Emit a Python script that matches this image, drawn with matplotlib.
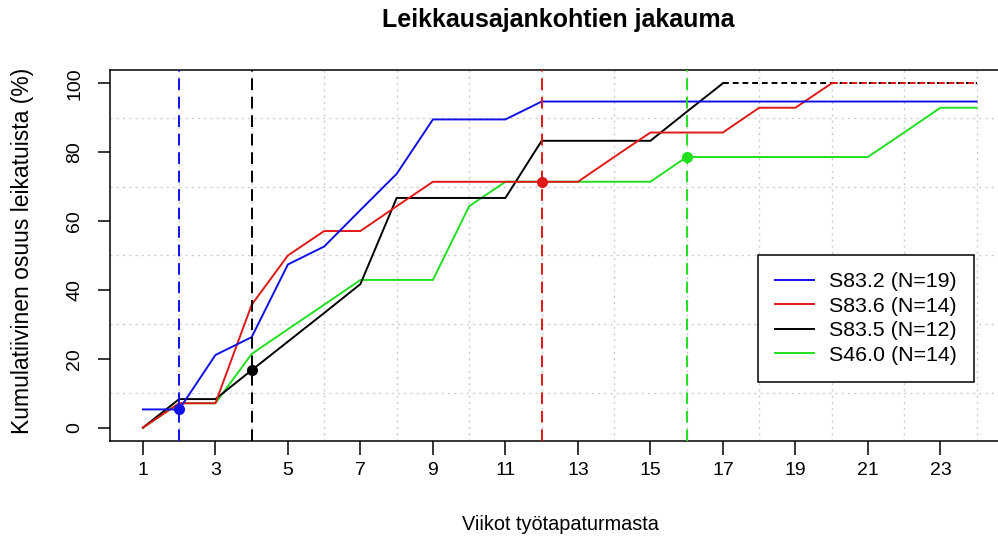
import numpy as np
import matplotlib
matplotlib.use("Agg")
import matplotlib.pyplot as plt

plt.rcParams['font.family'] = ['Liberation Sans', 'DejaVu Sans']

# viikot ja kumulatiiviset osuudet (%)
weeks = list(range(1, 25))
s832 = [5.3, 5.3, 21.1, 26.3, 47.4, 52.6, 63.2, 73.7, 89.5, 89.5, 89.5, 94.7,
        94.7, 94.7, 94.7, 94.7, 94.7, 94.7, 94.7, 94.7, 94.7, 94.7, 94.7, 94.7]
s836 = [0.0, 7.1, 7.1, 35.7, 50.0, 57.1, 57.1, 64.3, 71.4, 71.4, 71.4, 71.4,
        71.4, 78.6, 85.7, 85.7, 85.7, 92.9, 92.9, 100, 100, 100, 100, 100]
s835 = [0.0, 8.3, 8.3, 16.7, 25.0, 33.3, 41.7, 66.7, 66.7, 66.7, 66.7, 83.3,
        83.3, 83.3, 83.3, 91.7, 100, 100, 100, 100, 100, 100, 100, 100]
s460 = [0.0, 7.1, 7.1, 21.4, 28.6, 35.7, 42.9, 42.9, 42.9, 64.3, 71.4, 71.4,
        71.4, 71.4, 71.4, 78.6, 78.6, 78.6, 78.6, 78.6, 78.6, 85.7, 92.9, 92.9]

labels = ["S83.2 (N=19)", "S83.6 (N=14)", "S83.5 (N=12)", "S46.0 (N=14)"]
colors = ["#1010e8", "#e01818", "black", "#20e020"]
zorders = [5, 4, 3, 2]

# mediaaniviikot
median_weeks = [2, 12, 4, 16]
median_vals = [5.3, 71.4, 16.7, 78.6]

fig = plt.figure(figsize=(9.98, 5.43), dpi=100)
ax = fig.add_axes([0.1098, 0.187, 0.9022, 0.685])

x = np.array(weeks)
for ys, lab, col, z in zip([s832, s836, s835, s460], labels, colors, zorders):
    ys = np.array(ys)
    full = np.where(ys >= 100)[0]
    end = full[0] + 1 if len(full) else len(ys)
    ax.plot(x[:end], ys[:end], color=col, lw=1.4, zorder=z, label=lab)
    if len(full):
        # 100 %:n jälkeen katkoviivalla
        ax.plot(x[end - 1:], ys[end - 1:], color=col, lw=1.4, zorder=z,
                linestyle=(0, (3, 2)))

for mw, mv, col in zip(median_weeks, median_vals, colors):
    ax.axvline(mw, color=col, lw=1.4, linestyle=(0, (6, 3.5)), zorder=6)
    ax.plot(mw, mv, 'o', color=col, markersize=7, zorder=7)

ax.set_xlim(0.08, 24.92)
ax.set_ylim(-4, 104)

# ruudukko
ax.set_xticks(weeks, minor=True)
ax.set_yticks(np.arange(0, 101, 10), minor=True)
ax.grid(which='minor', color='#cccccc', linestyle=(0, (1.5, 3)), lw=1.0, zorder=1)
ax.tick_params(which='minor', length=0)

ax.set_xticks(np.arange(1, 24, 2))
ax.set_yticks(np.arange(0, 101, 20))
ax.tick_params(axis='x', direction='out', length=10, width=1.1, pad=5, labelsize=14)
ax.tick_params(axis='y', direction='out', length=9, width=1.1, pad=10, labelsize=14,
               labelrotation=90)
for lbl in ax.get_yticklabels():
    lbl.set_va('center')

for s in ['left', 'bottom', 'top']:
    ax.spines[s].set_linewidth(1.1)
ax.spines['right'].set_visible(False)

fig.text(558 / 998, 1 - 20 / 543, "Leikkausajankohtien jakauma", ha='center', va='center',
         fontsize=18, fontweight='bold')
fig.text(560 / 998, 1 - 525 / 543, "Viikot työtapaturmasta", ha='center', va='center',
         fontsize=14.3)
fig.text(23 / 998, 1 - 251 / 543, "Kumulatiivinen osuus leikatuista (%)", ha='center',
         va='center', rotation=90, fontsize=16.5)

leg = ax.legend(loc='upper left', bbox_to_anchor=(758 / 998, 1 - 255 / 543),
                bbox_transform=fig.transFigure, borderaxespad=0, fontsize=15.4,
                frameon=True, fancybox=False, edgecolor='black', framealpha=1,
                handlelength=1.82, handletextpad=0.7, labelspacing=0.26, borderpad=0.8)
leg.get_frame().set_linewidth(1.1)
leg.set_zorder(10)

fig.savefig("out.png", dpi=100)
